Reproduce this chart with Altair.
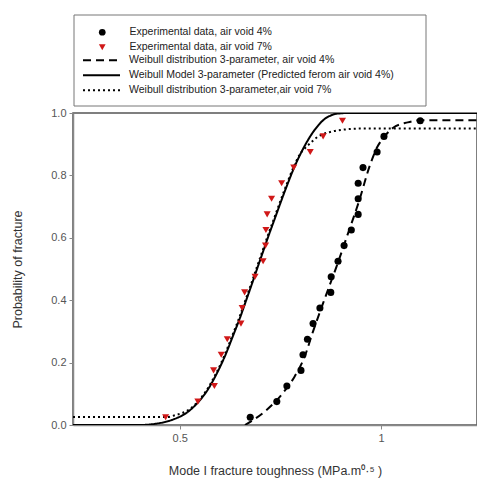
import altair as alt
import pandas as pd

lab4 = "Experimental data, air void 4%"
lab7 = "Experimental data, air void 7%"
x_void4 = [0.675, 0.741, 0.766, 0.801, 0.806, 0.817, 0.831, 0.848, 0.875, 0.876,
           0.893, 0.908, 0.926, 0.943, 0.943, 0.943, 0.955, 0.990, 1.007, 1.097]
x_void7 = [0.465, 0.545, 0.586, 0.584, 0.603, 0.618, 0.652, 0.655, 0.661, 0.687,
           0.707, 0.713, 0.714, 0.717, 0.728, 0.753, 0.783, 0.824, 0.856, 0.904]
p_exp = [0.025, 0.075, 0.125, 0.175, 0.225, 0.275, 0.325, 0.375, 0.425, 0.475,
         0.525, 0.575, 0.625, 0.675, 0.725, 0.775, 0.825, 0.875, 0.925, 0.975]

# ---- fitted curves ----
lab_dash = "Weibull distribution 3-parameter, air void 4%"
lab_solid = "Weibull Model 3-parameter (Predicted ferom air void 4%)"
lab_dot = "Weibull distribution 3-parameter,air void 7%"

dash_x = [0.662, 0.711, 0.752, 0.785, 0.810, 0.831, 0.860, 0.889, 0.918, 0.946,
          0.971, 0.990, 1.008, 1.029, 1.066, 1.099, 1.238]
dash_y = [0.0, 0.043, 0.096, 0.155, 0.219, 0.300, 0.405, 0.507, 0.615, 0.721,
          0.828, 0.890, 0.924, 0.952, 0.970, 0.977, 0.977]

solid_x = [0.235, 0.40, 0.44, 0.48, 0.52, 0.545, 0.568, 0.59, 0.612, 0.632, 0.65,
           0.665, 0.68, 0.694, 0.708, 0.722, 0.737, 0.751, 0.767, 0.784, 0.805,
           0.829, 0.845, 0.858, 0.875, 0.891, 0.92, 1.238]
solid_y = [0.0, 0.0, 0.004, 0.016, 0.042, 0.072, 0.11, 0.16, 0.22, 0.285, 0.345,
           0.40, 0.455, 0.508, 0.56, 0.612, 0.665, 0.715, 0.77, 0.825, 0.882,
           0.935, 0.962, 0.979, 0.992, 0.998, 1.0, 1.0]

dot_x = [0.235, 0.47, 0.49, 0.52, 0.545, 0.566, 0.588, 0.61, 0.63, 0.648, 0.663,
         0.678, 0.692, 0.706, 0.72, 0.735, 0.749, 0.765, 0.782, 0.797, 0.819,
         0.843, 0.876, 0.909, 0.95, 1.238]
dot_y = [0.026, 0.026, 0.032, 0.047, 0.075, 0.11, 0.16, 0.22, 0.285, 0.345, 0.40,
         0.455, 0.508, 0.56, 0.612, 0.665, 0.715, 0.77, 0.825, 0.865, 0.897,
         0.924, 0.940, 0.947, 0.95, 0.95]

x_ticks = [0.5, 1.0]
y_ticks = [0.0, 0.2, 0.4, 0.6, 0.8, 1.0]

pts = pd.DataFrame({
    "x": x_void4 + x_void7,
    "p": p_exp + p_exp,
    "series": [lab4] * len(x_void4) + [lab7] * len(x_void7),
})
curves = pd.concat([
    pd.DataFrame({"x": dash_x, "p": dash_y, "curve": lab_dash}),
    pd.DataFrame({"x": solid_x, "p": solid_y, "curve": lab_solid}),
    pd.DataFrame({"x": dot_x, "p": dot_y, "curve": lab_dot}),
])

FONT = "Liberation Sans"
xs = alt.Scale(domain=[0.235, 1.238], nice=False, zero=False)
ys = alt.Scale(domain=[0, 1], nice=False, zero=False)

x_enc = alt.X("x:Q", scale=xs, axis=alt.Axis(
    values=x_ticks, format="~g",
    title="Mode I fracture toughness (MPa.m⁰·⁵ )", titlePadding=21))
y_enc = alt.Y("p:Q", scale=ys, axis=alt.Axis(
    values=y_ticks, format=".1f", title="Probability of fracture", titlePadding=26))

pt_legend = alt.Legend(title=None, orient="none", legendX=9, legendY=-86,
                       symbolOffset=15, labelOffset=22, rowPadding=4,
                       padding=0, symbolSize=45, symbolStrokeWidth=0)

points = alt.Chart(pts).mark_point(filled=True, size=50, opacity=1).encode(
    x=x_enc, y=y_enc,
    shape=alt.Shape("series:N", scale=alt.Scale(domain=[lab4, lab7],
                    range=["circle", "triangle-down"]), legend=pt_legend),
    color=alt.Color("series:N", scale=alt.Scale(domain=[lab4, lab7],
                    range=["#000000", "#d01818"]), legend=pt_legend),
)

ln_legend = alt.Legend(title=None, orient="none", legendX=9, legendY=-58,
                       symbolType="stroke", symbolSize=1369, symbolStrokeWidth=2,
                       symbolStrokeColor="black", labelOffset=8, rowPadding=4,
                       clipHeight=10.5, padding=0)

lines = alt.Chart(curves).mark_line(strokeWidth=2, color="black", clip=True,
                                    interpolate="monotone").encode(
    x=alt.X("x:Q", scale=xs), y=alt.Y("p:Q", scale=ys),
    strokeDash=alt.StrokeDash("curve:N", scale=alt.Scale(
        domain=[lab_dash, lab_solid, lab_dot],
        range=[[8, 5], [1, 0], [2, 3]]), legend=ln_legend),
)

frame = alt.Chart(pd.DataFrame({"a": [0]})).mark_rect(
    fill="transparent", stroke="#777", strokeWidth=1, clip=False).encode(
    x=alt.value(1), x2=alt.value(353), y=alt.value(-98), y2=alt.value(-7))

chart = alt.layer(lines, points, frame).resolve_scale(
    shape="independent", color="independent", strokeDash="independent"
).properties(
    width=404, height=312,
    padding={"left": 73, "top": 113, "right": 0, "bottom": 54},
    autosize=alt.AutoSizeParams(type="none"),
).configure_view(
    stroke="#555", strokeWidth=1.5
).configure_axis(
    grid=False, domainColor="#888", domainWidth=1.5, tickColor="#888",
    tickSize=4, labelFont=FONT, labelFontSize=11, labelColor="#555",
    titleFont=FONT, titleFontSize=12.5, titleColor="#333", titleFontWeight="normal",
    labelPadding=3,
).configure_legend(
    labelFont=FONT, labelFontSize=10.5, labelColor="#222", labelLimit=400,
)

chart.save("out.html", embed_options={"renderer": "svg", "actions": False})
